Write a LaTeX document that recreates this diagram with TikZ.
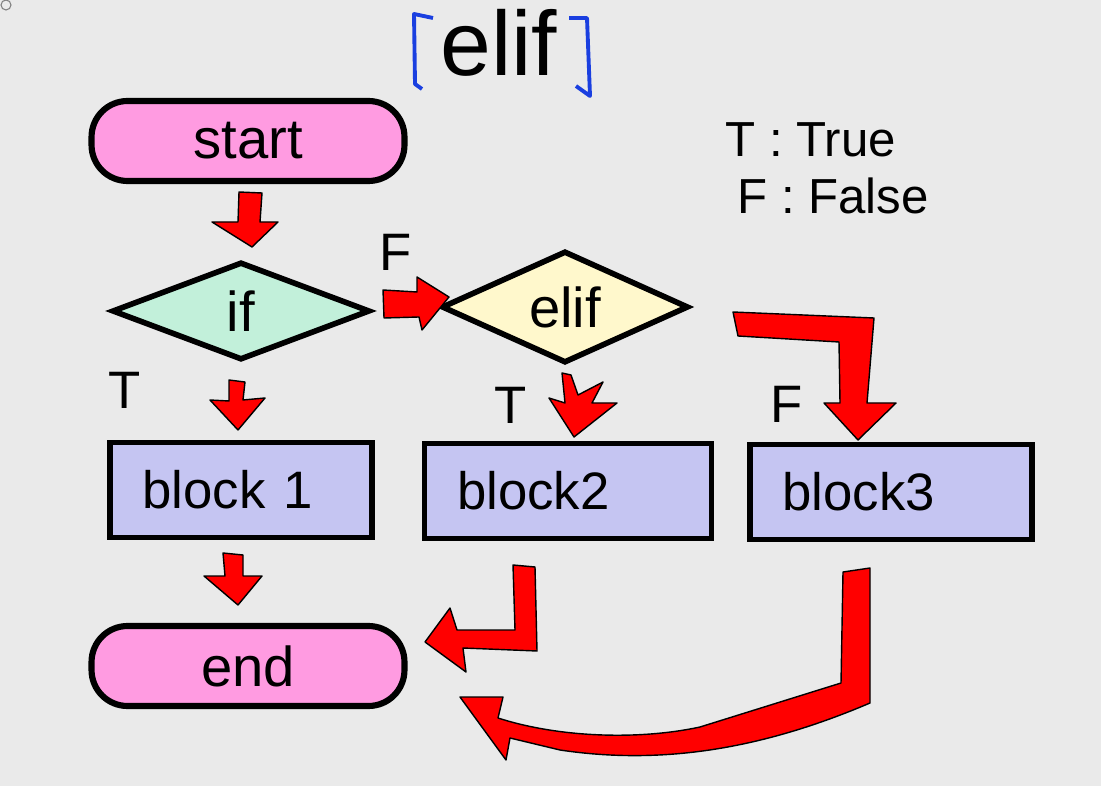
\documentclass[tikz,border=0pt]{standalone}
\usepackage{fontspec}
\setmainfont{Liberation Sans}
\usetikzlibrary{shapes.geometric}
\definecolor{bgc}{RGB}{234,234,234}
\definecolor{pinkc}{RGB}{255,155,225}
\definecolor{mintc}{RGB}{194,240,218}
\definecolor{yelc}{RGB}{255,248,204}
\definecolor{lavc}{RGB}{197,197,242}
\definecolor{redc}{RGB}{255,0,0}
\definecolor{bluec}{RGB}{26,63,224}
\begin{document}
\begin{tikzpicture}[x=0.02cm,y=-0.02cm,
  term/.style={draw=black, line width=3.5pt, fill=pinkc, rounded corners=0.72cm,
    minimum width=6.26cm, minimum height=1.6cm, inner sep=0pt,
    font=\fontsize{32}{34}\selectfont},
  decision/.style={diamond, draw=black, line width=3.2pt, inner sep=0pt, shape aspect=2.6,
    font=\fontsize{32}{34}\selectfont},
  blockbox/.style={draw=black, line width=3pt, fill=lavc, minimum height=1.9cm,
    inner xsep=0.65cm, align=left, font=\fontsize{30}{32}\selectfont},
  lbl/.style={font=\fontsize{30}{32}\selectfont, inner sep=0pt},
  legend/.style={font=\fontsize{28}{30}\selectfont, inner sep=0pt, anchor=west},
  blockarrow/.style={fill=redc, draw=black, line width=0.8pt, line join=round}
]
\fill[bgc] (0,0) rectangle (1101,786);
\useasboundingbox (0,0) rectangle (1101,786);
\draw[gray, line width=0.6pt] (6,5) circle (0.1cm);

% title
\node[font=\fontsize{52}{54}\selectfont, inner sep=0pt, anchor=base] (title) at (499,76) {elif};
\draw[bluec, line width=2.2pt, line join=round] (433,18) -- (414,14) -- (415,84) -- (422,89);
\draw[bluec, line width=2.2pt, line join=round] (569,18) -- (587,18) -- (590,96) -- (576,86);

% legend
\node[legend] (legT) at (725,140) {T : True};
\node[legend] (legF) at (737,196) {F : False};

% nodes
\node[term] (start) at (248,141) {start};
\node[decision, fill=mintc, minimum width=5.16cm, minimum height=1.96cm] (if) at (241,311) {if};
\node[decision, fill=yelc, minimum width=4.94cm, minimum height=2.24cm] (elif) at (565,307) {elif};
\node[blockbox, minimum width=5.24cm, text width=3.94cm] (b1) at (241,490) {block 1};
\node[blockbox, minimum width=5.74cm, text width=4.44cm] (b2) at (568,491) {block2};
\node[blockbox, minimum width=5.64cm, text width=4.34cm] (b3) at (891,492) {block3};
\node[term] (end) at (248,666) {end};

% labels
\node[lbl] (T1) at (125,390) {T};
\node[lbl] (F1) at (396,252) {F};
\node[lbl] (T2) at (511,405) {T};
\node[lbl] (F2) at (787,404) {F};

% arrows
\draw[blockarrow] (239,192) -- (262,193) -- (260,222) -- (278,222) -- (252,247) -- (212,222) -- (238,222) -- cycle;
\draw[blockarrow] (383,290) -- (417,292) -- (417,277) -- (449,297) -- (422,330) -- (419,317) -- (384,318) -- cycle;
\draw[blockarrow] (229,380) -- (245,382) -- (243,400) -- (265,398) -- (238,430) -- (210,400) -- (229,401) -- cycle;
\draw[blockarrow] (562,373) -- (571,375) -- (578,395) -- (603,382) -- (592,403) -- (617,403) -- (574,437) -- (549,398) -- (565,403) -- cycle;
\draw[blockarrow] (733,312) -- (874,318) -- (867,403) -- (896,403) -- (858,440) -- (824,403) -- (840,403) -- (839,342) -- (738,336) -- cycle;
\draw[blockarrow] (223,553) -- (243,555) -- (243,576) -- (262,576) -- (238,605) -- (204,576) -- (225,576) -- cycle;
\draw[blockarrow] (513,565) -- (535,567) -- (537,651) -- (463,648) -- (466,672) -- (425,642) -- (450,608) -- (457,630) -- (515,630) -- cycle;
\draw[blockarrow] (843,572) -- (870,568) -- (870,703) .. controls (760,750) and (660,765) .. (560,750) -- (510,738) -- (506,760) -- (460,697) -- (503,697) -- (498,718) .. controls (560,738) and (640,740) .. (700,727) -- (841,683) -- cycle;
\end{tikzpicture}
\end{document}
